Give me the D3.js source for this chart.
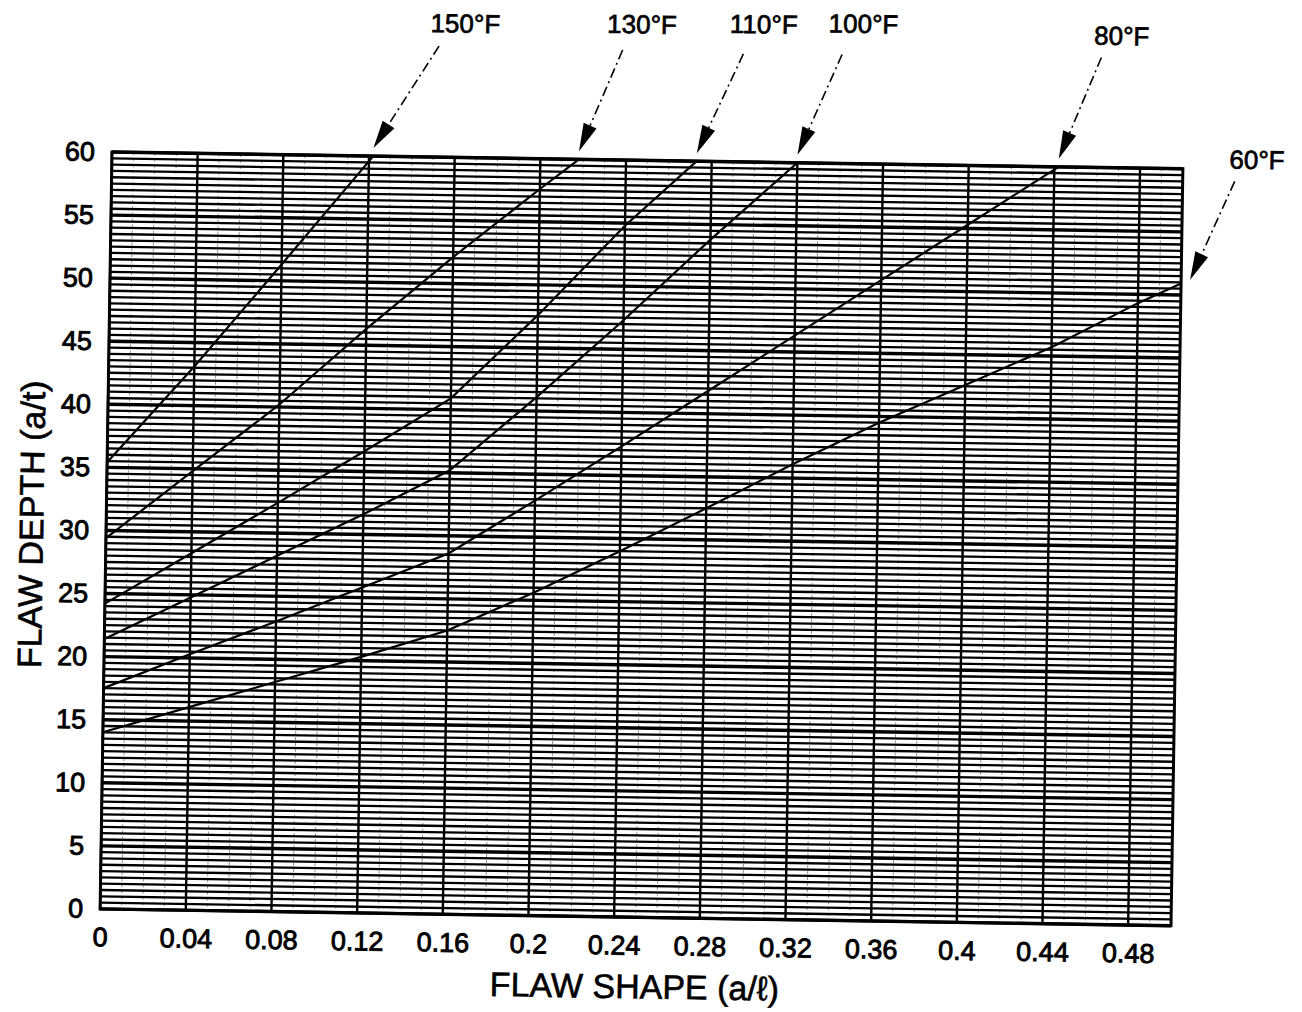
<!DOCTYPE html>
<html>
<head>
<meta charset="utf-8">
<script src="https://cdn.jsdelivr.net/npm/d3@7"></script>
<style>
    body { margin: 0; background: #fff; }
    svg { display: block; }
    text { font-family: "Liberation Sans", Arial, Helvetica, sans-serif; fill: #000; }
</style>
</head>
<body>
<svg id="chart" width="1302" height="1012"></svg>
<script>
// tick values
var shapeTicks = [0, 0.04, 0.08, 0.12, 0.16, 0.2, 0.24, 0.28, 0.32, 0.36, 0.4, 0.44, 0.48];
var depthTicks = [0, 5, 10, 15, 20, 25, 30, 35, 40, 45, 50, 55, 60];

// one pair of arrays per temperature curve: flaw shape (a/l) -> flaw depth (a/t)
var shape150 = [0, 0.04, 0.08, 0.122];
var depth150 = [35.4, 43.1, 51.3, 60];

var shape130 = [0, 0.04, 0.08, 0.12, 0.16, 0.2, 0.218];
var depth130 = [29.4, 34.8, 40.2, 46.3, 52.1, 57.6, 60];

var shape110 = [0, 0.04, 0.08, 0.12, 0.16, 0.2, 0.24, 0.273];
var depth110 = [24.2, 28.3, 32.4, 36.6, 40.9, 47.6, 54.8, 60];

var shape100 = [0, 0.04, 0.08, 0.12, 0.16, 0.2, 0.24, 0.28, 0.32];
var depth100 = [21.4, 24.8, 28.2, 31.6, 35.2, 41.1, 47.3, 53.8, 60];

var shape80 = [0, 0.04, 0.08, 0.12, 0.16, 0.2, 0.24, 0.28, 0.32, 0.36, 0.4, 0.442];
var depth80 = [17.5, 20.3, 23.0, 25.8, 28.6, 32.9, 37.3, 41.8, 46.3, 50.8, 55.3, 60];

var shape60 = [0, 0.04, 0.08, 0.12, 0.16, 0.2, 0.24, 0.28, 0.32, 0.36, 0.4, 0.44, 0.48, 0.5];
var depth60 = [14.0, 16.1, 18.2, 20.3, 22.5, 25.6, 29.0, 32.5, 36.1, 39.5, 42.6, 45.7, 49.3, 50.9];

var curveLabels = ["150°F", "130°F", "110°F", "100°F", "80°F", "60°F"];

var series = [
    {label: curveLabels[0], shape: shape150, depth: depth150},
    {label: curveLabels[1], shape: shape130, depth: depth130},
    {label: curveLabels[2], shape: shape110, depth: depth110},
    {label: curveLabels[3], shape: shape100, depth: depth100},
    {label: curveLabels[4], shape: shape80, depth: depth80},
    {label: curveLabels[5], shape: shape60, depth: depth60}
];

// callout layout, pixels relative to each curve end: arrow tip, arrow tail, label centre
var calloutTip  = [[0, -8], [0, -8], [0, -8], [0, -8], [0, -8], [9, -4]];
var calloutTail = [[64, -103], [42, -102], [45, -100], [43, -101], [41, -102], [43, -99]];
var calloutText = [[90, -126], [61, -128], [65, -130], [64, -132], [61, -124], [65, -121]];

var svg = d3.select('#chart');
var margin = {top: 152, left: 112},
    width = 1071,
    height = 757;

// the scanned page sits a little skewed, so the whole drawing is turned slightly
var g = svg.append('g')
    .attr('transform', 'translate(' + margin.left + ',' + margin.top + ') rotate(0.9)');

var xScale = d3.scaleLinear().domain([0, 0.5]).range([0, width]);
var yScale = d3.scaleLinear().domain([0, 60]).range([height, 0]);

// graph paper: faint 0.01 verticals, bold 0.04 verticals, 0.5 horizontals, heavier every 5
var fineX = d3.range(0, 51).filter(function(i) { return i % 4 !== 0; }).map(function(i) { return i / 100; });
g.append('g').selectAll('line').data(fineX).enter().append('line')
    .attr('x1', function(d) { return xScale(d); })
    .attr('x2', function(d) { return xScale(d); })
    .attr('y1', 0).attr('y2', height)
    .attr('stroke', '#333').attr('stroke-width', 1)
    .attr('stroke-dasharray', '3,3').attr('opacity', 0.5);

var rowsY = d3.range(0, 121).map(function(i) { return i / 2; });
g.append('g').selectAll('line').data(rowsY).enter().append('line')
    .attr('x1', 0).attr('x2', width)
    .attr('y1', function(d) { return yScale(d); })
    .attr('y2', function(d) { return yScale(d); })
    .attr('stroke', '#000')
    .attr('stroke-width', function(d) { return d % 5 === 0 ? 3.4 : 2.3; });

var majorX = d3.range(0, 13).map(function(i) { return i * 0.04; });
g.append('g').selectAll('line').data(majorX).enter().append('line')
    .attr('x1', function(d) { return xScale(d); })
    .attr('x2', function(d) { return xScale(d); })
    .attr('y1', 0).attr('y2', height)
    .attr('stroke', '#000').attr('stroke-width', 2.4);

g.append('rect')
    .attr('x', 0).attr('y', 0).attr('width', width).attr('height', height)
    .attr('fill', 'none').attr('stroke', '#000').attr('stroke-width', 3);

// axes, labels only
var xAxis = d3.axisBottom(xScale).tickValues(shapeTicks).tickSize(0).tickPadding(0)
    .tickFormat(function(d) { return String(d); });
var gx = g.append('g').attr('transform', 'translate(0,' + (height + 28) + ')').call(xAxis);
gx.select('.domain').remove();
gx.selectAll('text').attr('dy', '0.35em').attr('font-size', 27)
    .attr('font-family', '"Liberation Sans", Arial, sans-serif')
    .attr('fill', '#000').attr('stroke', '#000').attr('stroke-width', 0.9);

var yAxis = d3.axisLeft(yScale).tickValues(depthTicks).tickSize(0).tickPadding(17);
var gy = g.append('g').call(yAxis);
gy.select('.domain').remove();
gy.selectAll('text').attr('font-size', 27)
    .attr('font-family', '"Liberation Sans", Arial, sans-serif')
    .attr('fill', '#000').attr('stroke', '#000').attr('stroke-width', 0.9);

g.append('text')
    .attr('x', width / 2).attr('y', height + 81)
    .attr('text-anchor', 'middle').attr('font-size', 34)
    .attr('stroke', '#000').attr('stroke-width', 0.6)
    .text('FLAW SHAPE (a/ℓ)');

g.append('text')
    .attr('transform', 'translate(-63,' + (height / 2 - 5) + ') rotate(-90)')
    .attr('text-anchor', 'middle').attr('font-size', 34)
    .attr('stroke', '#000').attr('stroke-width', 0.6)
    .text('FLAW DEPTH (a/t)');

// temperature curves
var line = d3.line()
    .x(function(d) { return xScale(d[0]); })
    .y(function(d) { return yScale(d[1]); });

series.forEach(function(s) {
    var pts = s.shape.map(function(v, i) { return [v, s.depth[i]]; });
    g.append('path')
        .attr('d', line(pts))
        .attr('fill', 'none')
        .attr('stroke', '#000')
        .attr('stroke-width', 2.2);
});

// callouts: dash-dot leader with a filled arrowhead, temperature above
series.forEach(function(s, i) {
    var n = s.shape.length - 1;
    var ex = xScale(s.shape[n]), ey = yScale(s.depth[n]);
    var tipX = ex + calloutTip[i][0], tipY = ey + calloutTip[i][1];
    var tailX = tipX + calloutTail[i][0], tailY = tipY + calloutTail[i][1];
    var ang = Math.atan2(tipY - tailY, tipX - tailX);
    var headLen = 28, headHalf = 7;
    var bx = tipX - headLen * Math.cos(ang), by = tipY - headLen * Math.sin(ang);

    g.append('line')
        .attr('x1', tailX).attr('y1', tailY).attr('x2', bx).attr('y2', by)
        .attr('stroke', '#000').attr('stroke-width', 1.6)
        .attr('stroke-dasharray', '10,4,2,4');

    var head = [
        [tipX, tipY],
        [bx + headHalf * Math.sin(ang), by - headHalf * Math.cos(ang)],
        [bx - headHalf * Math.sin(ang), by + headHalf * Math.cos(ang)]
    ];
    g.append('path')
        .attr('d', 'M' + head.join('L') + 'Z')
        .attr('fill', '#000');

    g.append('text')
        .attr('x', tipX + calloutText[i][0])
        .attr('y', tipY + calloutText[i][1])
        .attr('dy', '0.35em')
        .attr('text-anchor', 'middle').attr('font-size', 26)
        .attr('stroke', '#000').attr('stroke-width', 0.7)
        .text(s.label);
});
</script>
</body>
</html>
